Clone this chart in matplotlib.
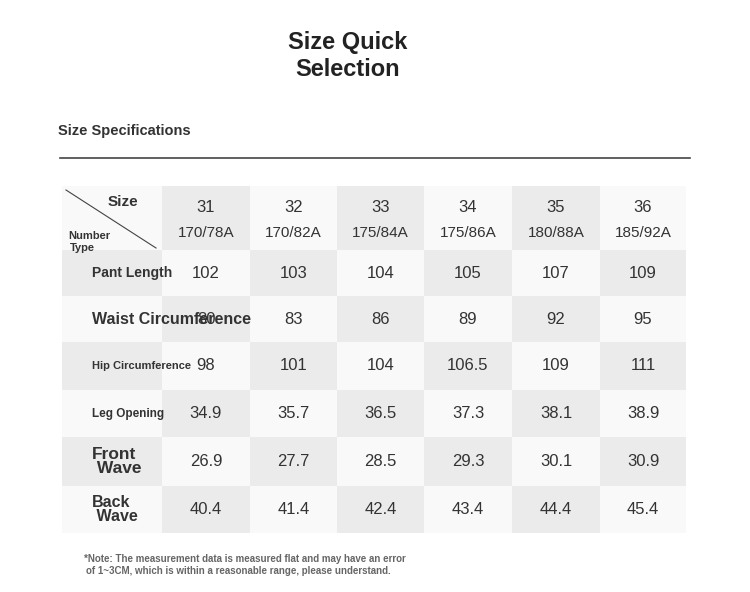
import matplotlib.pyplot as plt
from matplotlib.patches import Rectangle

plt.rcParams['font.family'] = ['Liberation Sans', 'DejaVu Sans']

sizes = ["31", "32", "33", "34", "35", "36"]
types = ["170/78A", "170/82A", "175/84A", "175/86A", "180/88A", "185/92A"]
row_labels = ["Pant Length", "Waist Circumference", "Hip Circumference",
              "Leg Opening", "Front\n Wave", "Back\n Wave"]
label_sizes = [10, 11.5, 8, 8.5, 12.5, 11.5]
values = [
    ["102", "103", "104", "105", "107", "109"],
    ["80", "83", "86", "89", "92", "95"],
    ["98", "101", "104", "106.5", "109", "111"],
    ["34.9", "35.7", "36.5", "37.3", "38.1", "38.9"],
    ["26.9", "27.7", "28.5", "29.3", "30.1", "30.9"],
    ["40.4", "41.4", "42.4", "43.4", "44.4", "45.4"],
]

fig = plt.figure(figsize=(7.5, 5.92), dpi=100)
ax = fig.add_axes([0, 0, 1, 1])
ax.set_xlim(0, 750)
ax.set_ylim(592, 0)
ax.axis("off")

# 标题
ax.text(348, 42, "Size Quick", ha="center", va="center", fontsize=17, fontweight="bold", color="#222")
ax.text(348, 69, "Selection", ha="center", va="center", fontsize=17, fontweight="bold", color="#222")
ax.text(58, 131, "Size Specifications", ha="left", va="center", fontsize=10.5, fontweight="bold", color="#333")
ax.plot([60, 690], [158, 158], color="#444", lw=1.2)

# 表格底色
col_x = [62, 162, 250, 337, 424, 512, 600, 686]
row_y = [186, 250, 296, 342, 390, 437, 486, 533]
g1, g2 = "#ebebeb", "#f9f9f9"
for r in range(len(row_y) - 1):
    for c in range(len(col_x) - 1):
        col = g1 if (r + c) % 2 else g2
        ax.add_patch(Rectangle((col_x[c], row_y[r]), col_x[c + 1] - col_x[c],
                               row_y[r + 1] - row_y[r], color=col, lw=0))

# 表头
ax.plot([66, 156], [190, 248], color="#444", lw=0.8)
ax.text(108, 202, "Size", fontsize=11, fontweight="bold", color="#333", va="center")
ax.text(68, 236, "Number", fontsize=8, fontweight="bold", color="#333", va="center")
ax.text(70, 248, "Type", fontsize=8, fontweight="bold", color="#333", va="center")

for c in range(6):
    cx = (col_x[c + 1] + col_x[c + 2]) / 2
    ax.text(cx, 207, sizes[c], ha="center", va="center", fontsize=12, color="#333")
    ax.text(cx, 233, types[c], ha="center", va="center", fontsize=11, color="#333")

for r in range(6):
    cy = (row_y[r + 1] + row_y[r + 2]) / 2
    ax.text(92, cy, row_labels[r], ha="left", va="center", fontsize=label_sizes[r],
            fontweight="bold", color="#333", linespacing=0.95)
    for c in range(6):
        cx = (col_x[c + 1] + col_x[c + 2]) / 2
        ax.text(cx, cy, values[r][c], ha="center", va="center", fontsize=12, color="#333")

ax.text(84, 559, "*Note: The measurement data is measured flat and may have an error",
        fontsize=7, fontweight="bold", color="#666", va="center")
ax.text(86, 571, "of 1~3CM, which is within a reasonable range, please understand.",
        fontsize=7, fontweight="bold", color="#666", va="center")

fig.savefig("out.png", dpi=100)
